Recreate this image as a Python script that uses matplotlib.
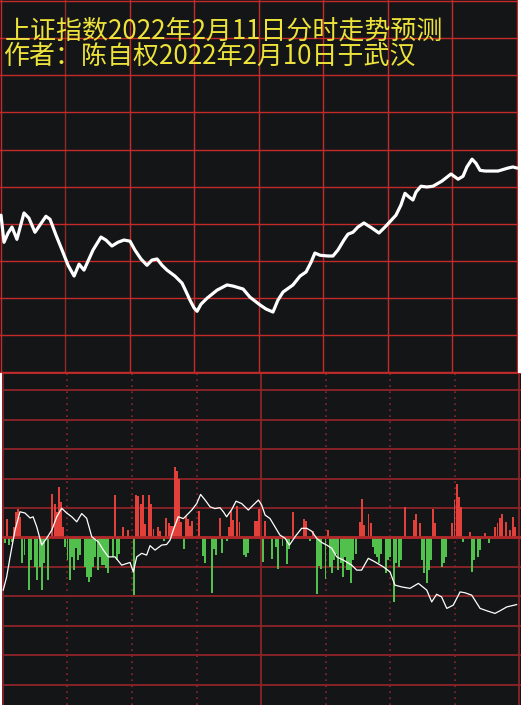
import matplotlib
matplotlib.use("Agg")
import matplotlib.pyplot as plt

plt.rcParams['font.family'] = ['Noto Sans CJK SC', 'DejaVu Sans']

# ---------------- data ----------------
title_line1 = "上证指数2022年2月11日分时走势预测"
title_line2 = "作者：陈自权2022年2月10日于武汉"

# top panel: predicted intraday price path (minute, value)
price_min = [0.0, 1.4, 3.3, 5.1, 7.4, 10.7, 13.0, 15.8, 20.9, 22.8, 25.6, 28.4, 31.2, 34.0, 36.3,
             38.6, 42.8, 46.5, 48.8, 51.6, 54.4, 57.2, 60.0, 62.3, 65.1, 67.9, 70.2, 72.6, 74.9,
             77.2, 80.9, 84.2, 86.0, 87.9, 89.8, 91.2, 93.0, 95.8, 100.5, 105.1, 107.9, 112.6,
             115.8, 120.5, 123.3, 126.5, 128.8, 131.2, 135.8, 139.1, 141.9, 144.2, 146.0, 148.4,
             152.1, 154.4, 156.7, 159.5, 161.4, 163.7, 166.0, 168.8, 172.6, 175.8, 178.6, 183.7,
             186.0, 187.9, 189.8, 191.6, 193.0, 195.3, 198.1, 200.9, 205.1, 209.3, 212.6, 214.9,
             216.7, 219.1, 220.9, 222.8, 225.1, 231.2, 235.8, 238.1, 240.0]
price_val = [42.3, 35.0, 37.5, 39.1, 35.8, 42.9, 41.5, 37.7, 42.0, 41.2, 36.9, 32.9, 28.8, 25.9, 29.1,
             27.5, 32.9, 36.4, 35.6, 34.0, 35.0, 35.6, 35.3, 32.9, 30.5, 28.8, 30.2, 30.5, 28.8,
             27.5, 25.9, 24.0, 21.8, 19.4, 17.3, 16.4, 18.3, 19.9, 22.1, 23.5, 23.2, 22.4,
             20.2, 18.1, 17.0, 16.2, 19.4, 21.6, 23.5, 25.9, 27.0, 29.6, 32.1, 31.5,
             31.3, 31.3, 32.9, 35.6, 37.2, 37.7, 39.1, 40.2, 38.8, 37.5, 39.1, 42.3,
             45.0, 48.2, 47.2, 46.4, 48.5, 50.1, 49.9, 50.1, 51.5, 53.4, 52.0, 52.8,
             55.3, 57.4, 56.3, 54.4, 54.2, 54.2, 55.0, 55.3, 55.0]

# bottom panel: red (up) bars
red_min = [2, 5, 6, 7, 8, 23, 24, 25, 26, 27,
           28, 52, 56, 58, 62, 63, 64, 65, 66, 68,
           69, 70, 72, 73, 76, 77, 78, 79, 80, 81,
           82, 83, 85, 86, 87, 88, 91, 101, 105, 106,
           107, 109, 110, 117, 118, 119, 122, 135, 140, 141,
           144, 151, 166, 167, 168, 170, 171, 187, 191, 192,
           194, 200, 201, 209, 210, 211, 212, 213, 217, 224,
           229, 230, 231, 232, 234, 236, 237, 238]
red_val = [0.61, 0.36, 0.87, 0.95, 0.70, 1.49, 1.15, 0.87, 1.70, 1.21,
           0.36, 1.44, 0.36, 0.25, 1.44, 1.40, 1.13, 1.44, 0.45, 1.44,
           1.13, 0.28, 0.34, 0.23, 0.65, 0.50, 0.40, 0.40, 2.40, 2.26,
           1.98, 0.51, 0.74, 0.62, 0.40, 0.57, 0.91, 0.66, 0.34, 0.91,
           0.60, 1.08, 0.51, 0.57, 0.57, 0.96, 0.57, 0.87, 0.62, 0.57,
           0.23, 0.25, 0.53, 1.32, 0.42, 0.81, 0.48, 1.04, 0.59, 0.81,
           0.48, 0.98, 0.48, 0.48, 1.27, 1.80, 1.38, 1.04, 0.19, 0.14,
           0.36, 0.48, 0.65, 0.81, 0.53, 0.25, 0.70, 0.36]

# bottom panel: green (down) bars
green_min = [1, 3, 4, 9, 10, 12, 13, 15, 16, 17,
             18, 19, 21, 29, 30, 31, 32, 33, 34, 35,
             36, 38, 39, 40, 41, 42, 43, 44, 45, 46,
             47, 48, 49, 51, 53, 54, 61, 75, 84, 93,
             94, 97, 98, 99, 102, 104, 112, 113, 114, 121,
             125, 127, 128, 130, 132, 133, 143, 146, 147, 148,
             150, 152, 153, 154, 155, 156, 157, 158, 159, 160,
             161, 162, 163, 164, 172, 173, 174, 175, 176, 178,
             179, 180, 182, 183, 184, 185, 195, 196, 197, 198,
             199, 204, 205, 206, 214, 218, 219, 221, 222, 226]
green_val = [-0.20, -0.26, -0.15, -0.88, -0.60, -1.79, -0.77, -1.00, -1.45, -1.00,
             -1.79, -0.88, -1.45, -0.32, -0.77, -1.45, -0.66, -1.11, -0.37, -0.77,
             -0.60, -1.00, -1.34, -1.51, -1.34, -1.00, -0.66, -1.11, -0.66, -0.94,
             -0.94, -1.05, -1.22, -0.66, -0.77, -0.55, -1.96, -0.11, -0.40, -0.62,
             -0.87, -1.90, -0.40, -0.59, -0.53, -0.11, -0.60, -0.68, -0.54, -0.83,
             -0.74, -0.34, -1.08, -0.28, -0.91, -0.40, -0.11, -1.92, -0.98, -1.08,
             -1.41, -1.00, -1.22, -0.77, -0.55, -1.11, -0.88, -1.34, -0.66, -1.11,
             -1.11, -1.56, -0.77, -0.55, -0.32, -0.55, -0.66, -0.88, -0.55, -1.22,
             -0.77, -0.66, -2.20, -0.88, -1.00, -0.77, -0.77, -1.22, -1.56, -1.11,
             -0.77, -1.00, -0.88, -0.66, -0.15, -1.17, -0.77, -0.66, -0.43, -0.20]

# bottom panel: white line (minute, value)
flow_min = [0.1, 1.7, 3.3, 5.6, 7.9, 10.2, 12.6, 14.0, 15.7, 18.0, 20.3, 22.7, 25.0, 27.3, 29.6,
            32.0, 34.3, 36.6, 38.9, 41.3, 44.3, 46.7, 49.0, 52.1, 55.2,
            59.1, 60.6, 62.2, 64.5, 66.8, 68.4, 70.7, 73.8, 76.1, 77.7, 79.2, 81.5, 83.9, 87.8,
            90.1, 91.9, 94.0, 96.3, 98.6, 100.9, 102.5, 104.0, 106.4, 108.4, 111.0, 114.1, 116.4,
            118.8, 120.3, 121.9, 124.2, 126.5, 128.8, 131.2, 133.2, 135.8, 138.9, 141.3, 143.6,
            145.9, 148.2, 150.6,
            152.9, 155.2, 158.3, 162.2, 164.5, 166.8, 169.9, 173.0,
            176.9, 180.0, 182.3, 185.4, 189.3, 193.2, 197.1, 199.4, 201.7, 204.0, 206.4, 209.4,
            212.6, 214.9, 218.0, 221.9, 225.0, 228.8, 231.2, 234.3, 238.9]
flow_val = [-1.79, -1.34, -0.66, 0.25, 0.87, 0.83, 0.66, 0.70, 0.36, -0.26, -0.03, 0.25, 0.70,
            0.99, 0.83, 0.70, 0.53, 0.81, 0.65, 0.02, -0.15, -0.43, -0.66, -0.66, -0.94,
            -0.85, -1.17, -0.66, -0.54, -0.60, -0.28, -0.43, -0.26, -0.24, -0.09, 0.25, 0.70, 0.64,
            0.93, 1.15, 1.46, 1.27, 1.04, 0.98, 1.01, 0.87, 0.70, 0.95, 1.23, 1.15, 0.93, 1.10,
            1.27, 1.10, 0.76, 0.64, 0.36, 0.08, -0.03, -0.26, 0.02, 0.31, 0.31, 0.21,
            -0.03, -0.17, -0.26,
            -0.37, -0.66, -0.77, -0.94, -1.11, -1.11, -0.71, -0.83,
            -1.00, -1.17, -1.62, -1.68, -1.73, -1.56, -1.79, -2.19, -1.93, -2.02, -2.41, -2.30,
            -1.85, -1.88, -1.96, -2.41, -2.49, -2.58, -2.49, -2.36, -2.28]

# ---------------- style ----------------
BG = '#141517'
GRID_TOP = '#c52a2a'
GRID_TOP_DARK = '#8e2a28'
GRID_BOT = '#8f2428'
RED = '#e2403a'
GREEN = '#52c04c'
YELLOW = '#ece23a'

W, H = 521, 705
fig = plt.figure(figsize=(W / 100, H / 100), dpi=100, facecolor='white')

# top panel
top_h = 372.5
ax1 = fig.add_axes([0, (H - top_h) / H, 518 / W, top_h / H])
ax1.set_facecolor(BG)
ax1.set_xlim(-0.465, 240.47)
ax1.set_ylim(-0.1, 100.3)
for xv in range(0, 241, 30):
    ax1.axvline(xv, color=GRID_TOP_DARK if xv == 30 else GRID_TOP, lw=1.0, zorder=1)
for yv in range(0, 101, 10):
    ax1.axhline(yv, color=GRID_TOP, lw=1.0, zorder=1)
ax1.plot(price_min, price_val, color='white', lw=2.3, solid_joinstyle='round',
         solid_capstyle='round', zorder=3)
ax1.set_xticks([]); ax1.set_yticks([])
for s in ax1.spines.values():
    s.set_visible(False)

# bottom panel
ax2 = fig.add_axes([2 / W, 0, 519 / W, (H - top_h) / H])
ax2.set_facecolor(BG)
ax2.set_xlim(-0.465, 240.93)
ax2.set_ylim(-5.69, 5.6)
for xv in range(0, 241, 30):
    if xv in (0, 120, 240):
        ax2.axvline(xv, color=GRID_BOT, lw=1.3, zorder=1)
    else:
        ax2.axvline(xv, color=GRID_BOT, lw=1.2, ls=(0, (1, 2.6)), zorder=1)
for yv in range(-5, 6):
    ax2.axhline(yv, color=GRID_BOT, lw=2.0 if yv == 0 else 1.3, zorder=1)
ax2.bar(red_min, red_val, width=0.9, color=RED, linewidth=0, zorder=2)
ax2.bar(green_min, green_val, width=0.9, color=GREEN, linewidth=0, zorder=2)
ax2.axhline(0, color='#b0282a', lw=2.0, zorder=2.5)
ax2.plot(flow_min, flow_val, color='white', lw=0.9, zorder=3)
ax2.set_xticks([]); ax2.set_yticks([])
for s in ax2.spines.values():
    s.set_visible(False)
ax2.axhline(5.6, color='#b02a2a', lw=1.5, zorder=4)

# titles
fig.text(5 / W, 1 - 31.5 / H, title_line1, color=YELLOW, fontsize=18.7, va='center', ha='left')
fig.text(3 / W, 1 - 56.5 / H, title_line2, color=YELLOW, fontsize=18.7, va='center', ha='left')

fig.savefig('out.png', dpi=100, facecolor='white')
